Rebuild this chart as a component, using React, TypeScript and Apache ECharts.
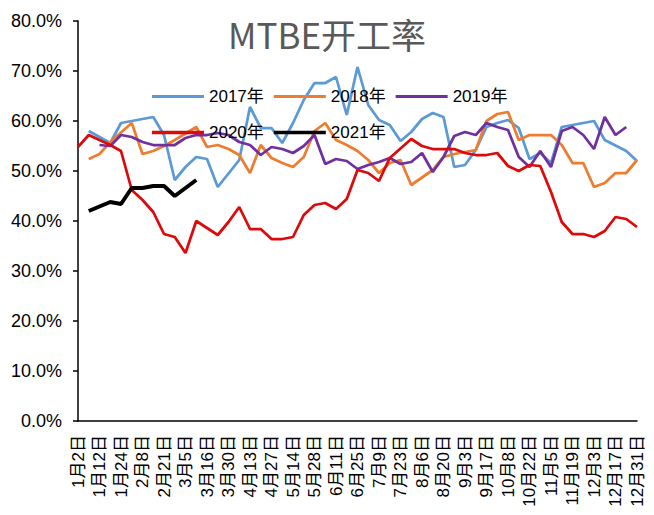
import React, { useEffect, useRef } from "react";
import * as echarts from "echarts";

const categories = [
  "1月2日", "1月7日", "1月12日", "1月17日", "1月24日", "1月31日", "2月8日", "2月14日", "2月21日", "2月28日",
  "3月5日", "3月10日", "3月16日", "3月23日", "3月30日", "4月6日", "4月13日", "4月20日", "4月27日", "5月7日",
  "5月14日", "5月21日", "5月28日", "6月4日", "6月11日", "6月18日", "6月25日", "7月2日", "7月9日", "7月16日",
  "7月23日", "7月30日", "8月6日", "8月13日", "8月20日", "8月27日", "9月3日", "9月10日", "9月17日", "9月24日",
  "10月8日", "10月15日", "10月22日", "10月29日", "11月5日", "11月12日", "11月19日", "11月26日", "12月3日", "12月10日",
  "12月17日", "12月24日", "12月31日",
];

const seriesNames = ["2017年", "2018年", "2019年", "2020年", "2021年"];

const y2017 = [
  null, 58, 56.8, 55.6, 59.6, 60, 60.4, 60.8, 57.2, 48.2,
  50.8, 52.8, 52.4, 46.8, 49.5, 52.2, 62.8, 58.6, 58.6, 55.6,
  59.6, 64.2, 67.6, 67.6, 68.8, 61.2, 70.8, 63.2, 60.2, 59.2,
  56, 57.8, 60.4, 61.6, 60.8, 50.8, 51.2, 54.2, 58.8, 59.6,
  60.2, 58.6, 52.4, 53.6, 51.6, 58.8, 59.2, 59.6, 60, 56.2,
  55.1, 54, 52,
];

const y2018 = [
  null, 52.4, 53.4, 55.8, 57.7, 59.6, 53.4, 54, 55, 56.2,
  57.5, 58.8, 54.8, 55.2, 54.4, 53.2, 49.6, 55.2, 52.6, 51.6,
  50.8, 52.8, 58, 59.6, 56.2, 55.2, 54, 52.2, 49.6, 51.6,
  52.2, 47.2, 48.7, 50.2, 52.8, 53.4, 53.8, 54.2, 60, 61.4,
  61.8, 56.2, 57.2, 57.2, 57.2, 55.2, 51.6, 51.6, 46.8, 47.6,
  49.6, 49.6, 52.2,
];

const y2019 = [
  null, null, 55.2, 55, 57.2, 56.8, 55.8, 55.2, 55.2, 55.2,
  56.6, 57.2, 57.2, 57.6, 57.2, 55.8, 55.2, 53.2, 54.8, 54.4,
  53.6, 55, 57.2, 51.4, 52.4, 52, 50.4, 51.2, 51.8, 52.6,
  51.4, 51.8, 53.6, 49.8, 52.8, 57, 57.8, 57.2, 59.6, 58.8,
  58.2, 52.8, 50.8, 54, 50.8, 58, 58.8, 57.2, 54.4, 60.8,
  57.2, 58.8, null,
];

const y2020 = [
  54.8, 57.2, 56.2, 55.2, 54, 46.2, 44.2, 41.8, 37.4, 36.8,
  33.6, 40, 38.6, 37.2, 39.8, 42.8, 38.4, 38.4, 36.4, 36.4,
  36.8, 41.2, 43.2, 43.6, 42.4, 44.4, 50.2, 49.6, 48, 52.6,
  54.5, 56.4, 55, 54.4, 54.4, 54.4, 53.6, 53.2, 53.2, 53.6,
  51, 50, 51.2, 51, 45.8, 39.8, 37.4, 37.4, 36.8, 38,
  40.8, 40.4, 38.8,
];

const y2021 = [null, 42, 42.9, 43.8, 43.4, 46.6, 46.6, 47, 47, 45, 46.6, 48.2];

const seriesData = [y2017, y2018, y2019, y2020, y2021];
const seriesColors = ["#5B9BD5", "#ED7D31", "#7030A0", "#DC0A0A", "#000000"];
const seriesWidths = [2.75, 2.75, 2.75, 2.75, 4];

const FONT = "'Liberation Sans', Arial, 'Noto Sans CJK SC', sans-serif";

export default function App() {
  const ref = useRef<HTMLDivElement>(null);

  useEffect(() => {
    document.body.style.margin = "0";
    const chart = echarts.init(ref.current!, null, { renderer: "svg" });
    const legendText = { fontSize: 17, color: "#000", fontFamily: FONT };
    chart.setOption({
      animation: false,
      backgroundColor: "#fff",
      title: {
        text: "MTBE开工率",
        left: "center",
        top: 11,
        textStyle: {
          fontSize: 35,
          fontWeight: "normal",
          color: "#595959",
          fontFamily: "'Noto Sans CJK SC', sans-serif",
        },
      },
      legend: [
        {
          data: seriesNames.slice(0, 3),
          left: 152,
          top: 88,
          padding: 0,
          icon: "rect",
          itemWidth: 52,
          itemHeight: 3,
          itemGap: 10,
          textStyle: legendText,
        },
        {
          data: seriesNames.slice(3),
          left: 152,
          top: 124,
          padding: 0,
          icon: "rect",
          itemWidth: 52,
          itemHeight: 3.5,
          itemGap: 10,
          textStyle: legendText,
        },
      ],
      grid: { left: 78, right: 17, top: 21, bottom: 94, containLabel: false },
      xAxis: {
        type: "category",
        data: categories,
        boundaryGap: false,
        axisLine: { lineStyle: { color: "#000", width: 1.5 } },
        axisTick: { show: false },
        axisLabel: {
          interval: 1,
          rotate: 90,
          fontSize: 17,
          color: "#000",
          fontFamily: FONT,
          margin: 14,
          padding: [13, 0, 0, 0],
        },
      },
      yAxis: {
        type: "value",
        min: 0,
        max: 80,
        interval: 10,
        splitLine: { show: false },
        axisLine: { show: true, lineStyle: { color: "#000", width: 1.5 } },
        axisTick: { show: true, length: 5, lineStyle: { color: "#000", width: 1.5 } },
        axisLabel: {
          fontSize: 18,
          color: "#000",
          fontFamily: FONT,
          margin: 16,
          formatter: (v: number) => v.toFixed(1) + "%",
        },
      },
      series: seriesNames.map((name, i) => ({
        name,
        type: "line",
        data: seriesData[i],
        symbol: "none",
        connectNulls: false,
        lineStyle: { color: seriesColors[i], width: seriesWidths[i] },
        itemStyle: { color: seriesColors[i] },
      })),
    });
    return () => chart.dispose();
  }, []);

  return (
    <div
      ref={ref}
      style={{ position: "absolute", left: 0, top: 0, width: 654, height: 515 }}
    />
  );
}
